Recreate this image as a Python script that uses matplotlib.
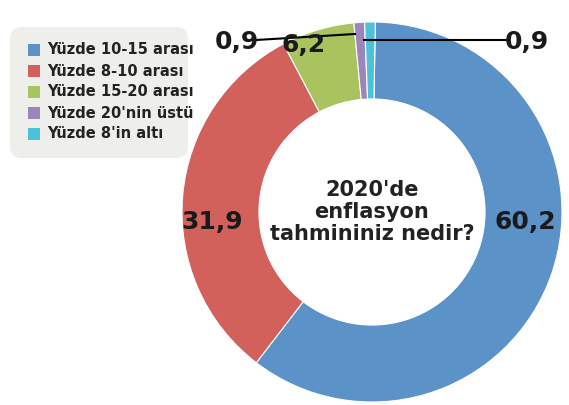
import matplotlib
matplotlib.use("Agg")
import matplotlib.pyplot as plt
from matplotlib.patches import FancyBboxPatch

labels = ["Yüzde 10-15 arası", "Yüzde 8-10 arası", "Yüzde 15-20 arası", "Yüzde 20'nin üstü", "Yüzde 8'in altı"]
values = [60.2, 31.9, 6.2, 0.9, 0.9]
value_text = ["60,2", "31,9", "6,2", "0,9", "0,9"]
colors = ["#5b93c9", "#d1615a", "#a9c35e", "#9a86bb", "#4cc1d8"]

W, H = 569, 405
fig = plt.figure(figsize=(W/100, H/100), dpi=100)
fig.patch.set_facecolor("white")
cond = "DejaVu Sans Condensed"

bg = fig.add_axes([0, 0, 1, 1]); bg.set_xlim(0, W); bg.set_ylim(H, 0); bg.axis("off")
bg.add_patch(FancyBboxPatch((10, 27), 178, 131, boxstyle="round,pad=0,rounding_size=12",
                            fc="#eeeeea", ec="none"))
for i, (lab, c) in enumerate(zip(labels, colors)):
    y = 50 + i * 21
    bg.add_patch(plt.Rectangle((28, y - 6), 12, 12, fc=c, ec="none"))
    bg.text(47, y, lab, fontsize=10.5, fontweight="bold", va="center", ha="left",
            color="#222222", family=cond)

cx, cy, R = 372, 212, 190
ax = fig.add_axes([(cx - R)/W, (H - cy - R)/H, 2*R/W, 2*R/H])
ax.pie(values, colors=colors, startangle=89, counterclock=False,
       wedgeprops=dict(width=0.405, edgecolor="white", linewidth=0.8))
ax.set_xlim(-1, 1); ax.set_ylim(-1, 1); ax.set_aspect("equal")

ov = fig.add_axes([0, 0, 1, 1]); ov.set_xlim(0, W); ov.set_ylim(H, 0); ov.axis("off")
ov.patch.set_alpha(0)
ov.text(cx, 212, "2020'de\nenflasyon\ntahmininiz nedir?", ha="center", va="center",
        fontsize=15, fontweight="bold", color="#222222", linespacing=1.1, family=cond)
pos = [(525, 222), (212, 222), (304, 45), (237, 42), (527, 42)]
for t, (x, y) in zip(value_text, pos):
    ov.text(x, y, t, fontsize=18, fontweight="bold", ha="center", va="center",
            color="#1a1a1a", family=cond)
ov.plot([256, 355], [40, 34], color="black", lw=1.5)
ov.plot([364, 507], [40, 40], color="black", lw=1.5)

fig.savefig("out.png", dpi=100)
